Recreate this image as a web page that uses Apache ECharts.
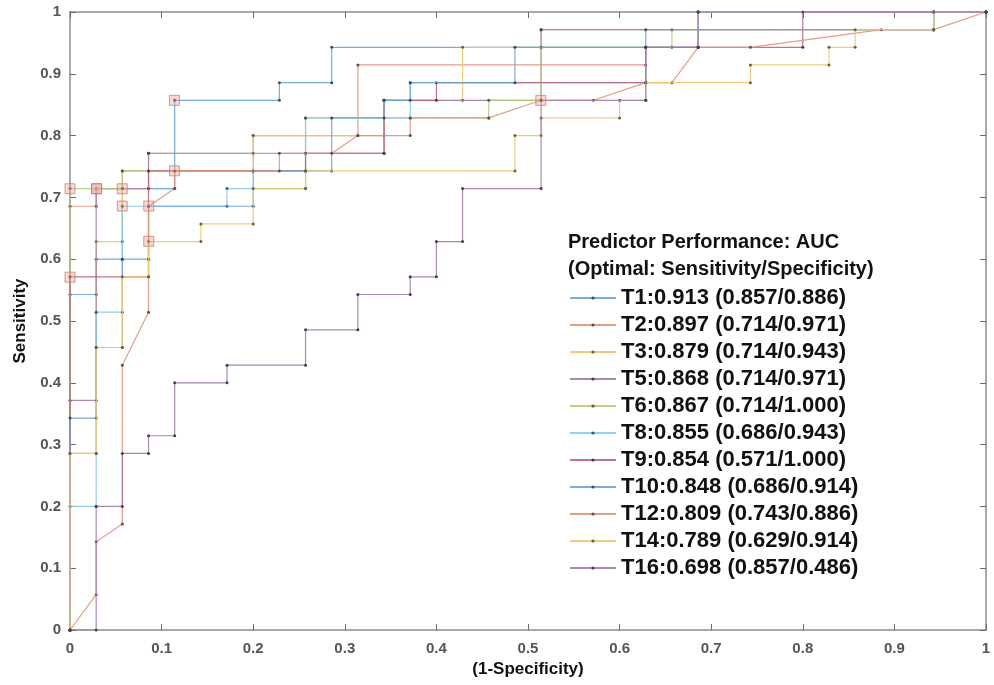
<!DOCTYPE html>
<html>
<head>
<meta charset="utf-8">
<script src="https://cdn.jsdelivr.net/npm/echarts@6/dist/echarts.min.js"></script>
<style>
html,body{margin:0;padding:0;background:#fff;}
#chart{width:994px;height:685px;}
</style>
</head>
<body>
<div id="chart"></div>
<script>
// ---- data (ROC vertices as counts: [false positives, true positives], out of 35 negatives / 35 positives)
const N_NEG = 35;
const N_POS = 35;
const predictors = ['T1','T2','T3','T5','T6','T8','T9','T10','T12','T14','T16'];
const aucValues = [0.913,0.897,0.879,0.868,0.867,0.855,0.854,0.848,0.809,0.789,0.698];
const optSensitivity = [0.857,0.714,0.714,0.714,0.714,0.686,0.571,0.686,0.743,0.629,0.857];
const optSpecificity = [0.886,0.971,0.943,0.971,1.000,0.943,1.000,0.914,0.886,0.914,0.486];
const xTicks = [0,0.1,0.2,0.3,0.4,0.5,0.6,0.7,0.8,0.9,1];
const yTicks = [0,0.1,0.2,0.3,0.4,0.5,0.6,0.7,0.8,0.9,1];

const rocT1 = [[0,0],[0,19],[1,19],[1,21],[2,21],[2,25],[4,25],[4,30],[8,30],[8,31],[10,31],[10,33],[24,33],[24,35],[35,35]];
const rocT2 = [[0,0],[0,24],[1,24],[1,25],[2,25],[2,26],[7,26],[7,28],[11,28],[11,32],[22,32],[22,33],[24,33],[24,35],[35,35]];
const rocT3 = [[0,0],[0,10],[1,10],[1,22],[2,22],[2,25],[3,25],[3,27],[7,27],[7,28],[12,28],[12,30],[15,30],[15,33],[18,33],[18,34],[33,34],[33,35],[35,35]];
const rocT5 = [[0,0],[0,13],[1,13],[1,25],[3,25],[3,27],[12,27],[12,30],[18,30],[18,34],[33,34],[33,35],[35,35]];
const rocT6 = [[0,0],[0,25],[2,25],[2,26],[9,26],[9,29],[16,29],[16,30],[18,30],[18,33],[23,33],[23,34],[33,34],[33,35],[35,35]];
const rocT8 = [[0,0],[0,7],[1,7],[1,18],[2,18],[2,24],[6,24],[6,25],[9,25],[9,29],[13,29],[13,31],[22,31],[22,33],[24,33],[24,35],[35,35]];
const rocT9 = [[0,0],[0,20],[3,20],[3,26],[9,26],[9,27],[12,27],[12,30],[14,30],[14,31],[22,31],[22,33],[28,33],[28,35],[35,35]];
const rocT10 = [[0,0],[0,12],[1,12],[1,16],[2,16],[2,21],[3,21],[3,24],[7,24],[7,26],[10,26],[10,29],[12,29],[12,30],[13,30],[13,31],[17,31],[17,33],[22,33],[22,34],[33,34],[33,35],[35,35]];
const rocT12 = [[0,0],[1,2],[1,5],[2,6],[2,15],[3,18],[3,24],[4,25],[4,26],[8,26],[8,27],[10,27],[11,28],[13,28],[13,29],[16,29],[18,30],[20,30],[22,31],[23,31],[24,33],[26,33],[31,34],[33,34],[35,35]];
const rocT14 = [[0,0],[0,10],[1,10],[1,16],[2,16],[2,20],[3,20],[3,22],[5,22],[5,23],[7,23],[7,25],[9,25],[9,26],[17,26],[17,28],[18,28],[18,29],[21,29],[21,30],[22,30],[22,31],[26,31],[26,32],[29,32],[29,33],[30,33],[30,34],[33,34],[33,35],[35,35]];
const rocT16 = [[0,0],[1,0],[1,7],[2,7],[2,10],[3,10],[3,11],[4,11],[4,14],[6,14],[6,15],[9,15],[9,17],[11,17],[11,19],[13,19],[13,20],[14,20],[14,22],[15,22],[15,25],[18,25],[18,30],[22,30],[22,33],[24,33],[24,35],[35,35]];
const rocCurves = [rocT1,rocT2,rocT3,rocT5,rocT6,rocT8,rocT9,rocT10,rocT12,rocT14,rocT16];

// ---- styles
const lineColors = ['#6aa3d4','#e2927a','#f0c868','#a07cac','#b0cc78','#82cbec','#bf6478','#6aa3d4','#e2927a','#f0c868','#a07cac'];
const dotColors  = ['#3a4c6a','#6a4a48','#6a6040','#4a3a58','#50603a','#3a5a6a','#5a3040','#3a4c6a','#6a4a48','#6a6040','#4a3a58'];

const legendNames = predictors.map((p,k)=> p + ':' + aucValues[k].toFixed(3) + ' (' + optSensitivity[k].toFixed(3) + '/' + optSpecificity[k].toFixed(3) + ')');

const series = rocCurves.map((curve,k)=>({
  name: legendNames[k],
  type: 'line',
  data: curve.map(p=>[p[0]/N_NEG, p[1]/N_POS]),
  symbol: 'circle',
  symbolSize: 3,
  showSymbol: true,
  animation: false,
  lineStyle: {color: lineColors[k], width: 1.2, opacity: 0.9},
  itemStyle: {color: dotColors[k]},
  emphasis: {disabled: true},
  z: 2 + k*0.01
}));

series.push({
  name: 'optimal',
  type: 'scatter',
  data: predictors.map((p,k)=>[1-optSpecificity[k], optSensitivity[k]]),
  symbol: 'rect',
  symbolSize: 10,
  itemStyle: {color: 'rgba(236,160,150,0.5)', borderColor: 'rgba(190,110,100,0.8)', borderWidth: 1},
  animation: false,
  z: 5
});

const axisLineStyle = {color: '#8c8c8c', width: 1.5};
const tickStyle = {inside: true, length: 6, lineStyle: {color: '#6a6a6a', width: 1}};

const option = {
  backgroundColor: '#fff',
  animation: false,
  grid: {left: 70, right: 8, top: 12, bottom: 55, containLabel: false},
  title: {
    text: 'Predictor Performance: AUC\n(Optimal: Sensitivity/Specificity)',
    left: 563, top: 224,
    textStyle: {fontFamily: 'Liberation Sans', fontSize: 20, fontWeight: 'bold', color: '#111', lineHeight: 27}
  },
  legend: {
    data: legendNames,
    orient: 'vertical',
    left: 564, top: 282,
    itemWidth: 46, itemHeight: 4, itemGap: 5,
    selectedMode: false,
    textStyle: {fontFamily: 'Liberation Sans', fontSize: 22, fontWeight: 'bold', color: '#111', lineHeight: 22}
  },
  xAxis: [{
    type: 'value', min: 0, max: 1, interval: 0.1, position: 'bottom',
    axisLine: {show: true, onZero: false, lineStyle: axisLineStyle},
    axisTick: tickStyle,
    axisLabel: {color: '#555', fontFamily: 'Liberation Sans', fontSize: 15, fontWeight: 'bold', margin: 11,
      customValues: xTicks},
    splitLine: {show: false},
    name: '(1-Specificity)', nameLocation: 'middle', nameGap: 29,
    nameTextStyle: {fontFamily: 'Liberation Sans', fontSize: 17, fontWeight: 'bold', color: '#111'}
  },{
    type: 'value', min: 0, max: 1, interval: 0.1, position: 'top',
    axisLine: {show: true, onZero: false, lineStyle: axisLineStyle},
    axisTick: tickStyle, axisLabel: {show: false}, splitLine: {show: false}
  }],
  yAxis: [{
    type: 'value', min: 0, max: 1, interval: 0.1, position: 'left',
    axisLine: {show: true, onZero: false, lineStyle: axisLineStyle},
    axisTick: tickStyle,
    axisLabel: {color: '#555', fontFamily: 'Liberation Sans', fontSize: 15, fontWeight: 'bold', margin: 9,
      customValues: yTicks},
    splitLine: {show: false},
    name: 'Sensitivity', nameLocation: 'middle', nameGap: 33, nameRotate: 90,
    nameTextStyle: {fontFamily: 'Liberation Sans', fontSize: 17, fontWeight: 'bold', color: '#111'}
  },{
    type: 'value', min: 0, max: 1, interval: 0.1, position: 'right',
    axisLine: {show: true, onZero: false, lineStyle: axisLineStyle},
    axisTick: tickStyle, axisLabel: {show: false}, splitLine: {show: false}
  }],
  series: series
};

const chart = echarts.init(document.getElementById('chart'), null, {renderer: 'canvas'});
chart.setOption(option);
</script>
</body>
</html>
